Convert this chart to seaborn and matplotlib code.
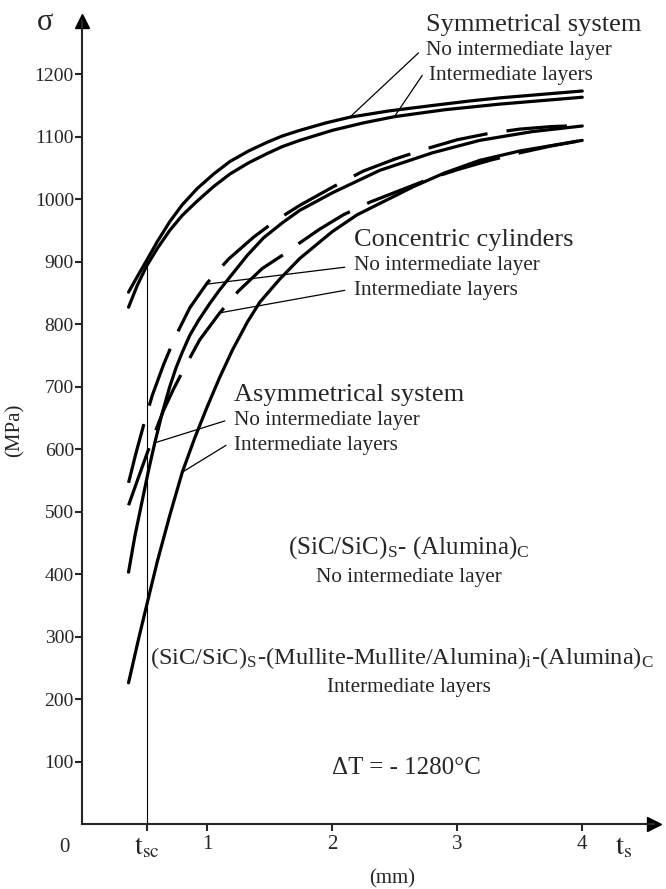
"""
Residual stress vs. SiC/SiC thickness for three joint geometries
"""

import matplotlib
matplotlib.use("Agg")
import matplotlib.pyplot as plt
import seaborn as sns

# Data (thickness t_s in mm, stress in MPa)
sym_no_x = [0.37, 0.44, 0.515, 0.6, 0.70, 0.8, 0.92, 1.05, 1.18, 1.33, 1.48, 1.6, 1.74,
            1.95, 2.14, 2.45, 2.81, 3.1, 3.34, 3.7, 4.0]
sym_no_y = [851, 876, 902, 932, 964, 991, 1017, 1040, 1060, 1077, 1091, 1101, 1110,
            1122, 1131, 1141, 1150, 1157, 1162, 1168, 1173]

sym_int_x = [0.37, 0.44, 0.515, 0.6, 0.70, 0.8, 0.92, 1.05, 1.18, 1.33, 1.48, 1.6, 1.74,
             2.0, 2.25, 2.5, 2.9, 3.34, 3.7, 4.0]
sym_int_y = [827, 862, 893, 921, 950, 974, 997, 1020, 1040, 1058, 1073, 1084, 1094,
             1110, 1122, 1132, 1143, 1152, 1158, 1163]

conc_no_x = [0.37, 0.43, 0.49, 0.56, 0.65, 0.74, 0.86, 1.0, 1.17, 1.37, 1.55, 1.74,
             2.01, 2.25, 2.5, 2.76, 3.0, 3.25, 3.5, 3.75, 4.0]
conc_no_y = [546, 594, 638, 686, 735, 778, 826, 866, 904, 939, 966, 990,
             1020, 1045, 1064, 1081, 1095, 1105, 1112, 1116, 1118]

conc_int_x = [0.37, 0.45, 0.52, 0.58, 0.65, 0.73, 0.82, 0.94, 1.1, 1.25, 1.44, 1.6, 1.74,
              1.9, 2.09, 2.3, 2.53, 2.8, 3.0, 3.26, 3.5, 3.75, 4.0]
conc_int_y = [510, 555, 594, 626, 662, 696, 731, 775, 818, 853, 889, 910, 930,
              952, 975, 995, 1013, 1034, 1047, 1062, 1074, 1085, 1094]

asym_no_x = [0.37, 0.42, 0.48, 0.53, 0.58, 0.64, 0.70, 0.75, 0.80, 0.86, 0.93, 1.02, 1.1,
             1.2, 1.32, 1.45, 1.6, 1.74, 2.0, 2.38, 2.8, 3.18, 3.6, 4.0]
asym_no_y = [403, 460, 518, 566, 610, 658, 700, 730, 755, 782, 806, 833, 855,
             880, 910, 938, 962, 982, 1010, 1046, 1074, 1094, 1108, 1117]

asym_int_x = [0.37, 0.45, 0.515, 0.6, 0.7, 0.8, 0.9, 1.0, 1.1, 1.2, 1.32, 1.42, 1.58, 1.74,
              2.0, 2.2, 2.45, 2.65, 2.9, 3.18, 3.5, 4.0]
asym_int_y = [226, 296, 350, 420, 494, 563, 618, 668, 715, 758, 803, 835, 872, 905,
              948, 975, 1000, 1020, 1042, 1062, 1077, 1094]

T_SC = 0.515
SIGMA_SC = 902

y_ticks = [100, 200, 300, 400, 500, 600, 700, 800, 900, 1000, 1100, 1200]
x_ticks = [T_SC, 1, 2, 3, 4]
x_tick_labels = [r"$\mathrm{t}_{\mathrm{sc}}$", "1", "2", "3", "4"]

# Style
sns.set_style("ticks")
plt.rcParams['font.family'] = ['Liberation Serif', 'DejaVu Serif']
plt.rcParams['mathtext.fontset'] = 'stix'

fig = plt.figure(figsize=(6.66, 8.89), dpi=100)
ax = fig.add_axes([82.3 / 666, 65 / 889, (654 - 82.3) / 666, (824 - 21) / 889])

solid_kw = dict(color="black", linewidth=2.3, estimator=None, sort=False, legend=False)
dash_kw = dict(solid_kw, linestyle=(0, (19, 6)))

sns.lineplot(x=sym_no_x, y=sym_no_y, ax=ax, **solid_kw)
sns.lineplot(x=sym_int_x, y=sym_int_y, ax=ax, **solid_kw)
sns.lineplot(x=conc_no_x, y=conc_no_y, ax=ax, **dash_kw)
sns.lineplot(x=conc_int_x, y=conc_int_y, ax=ax, **dash_kw)
sns.lineplot(x=asym_no_x, y=asym_no_y, ax=ax, **solid_kw)
sns.lineplot(x=asym_int_x, y=asym_int_y, ax=ax, **solid_kw)

# t_sc marker line
ax.plot([T_SC, T_SC], [0, SIGMA_SC], color="black", lw=0.8)

# Axes
ax.set_xlim(0, 4.574)
ax.set_ylim(0, 1285)
sns.despine(ax=ax)
for s in ["left", "bottom"]:
    ax.spines[s].set_linewidth(1.5)
ax.set_yticks(y_ticks)
ax.set_xticks(x_ticks)
ax.set_xticklabels(x_tick_labels)
ax.tick_params(axis="y", labelsize=14, length=5, width=1.5, pad=1)
ax.tick_params(axis="x", labelsize=15, length=5, width=1.5, pad=3)
for lab in ax.get_xticklabels()[:1]:
    lab.set_fontsize(20)
ax.set_xlabel("")
ax.set_ylabel("")

# arrow heads
ax.plot(1, 0, ">k", ms=10, transform=ax.transAxes, clip_on=False)
ax.plot(0, 1, "^k", ms=10, transform=ax.transAxes, clip_on=False)

ax.text(-0.14, -37, "0", fontsize=15, ha="center", va="center")
ax.text(4.33, -37, r"$\mathrm{t}_{\mathrm{s}}$", fontsize=21, ha="center", va="center")
ax.text(2.48, -88, "(mm)", fontsize=15, ha="center", va="center")
ax.text(-0.54, 630, "(MPa)", fontsize=15, ha="center", va="center", rotation=90)
ax.text(-0.30, 1283, "σ", fontsize=22, ha="center", va="center")

# Curve labels
title_fs = 19
sub_fs = 15.3
ax.text(2.75, 1278, "Symmetrical system", fontsize=title_fs, va="center")
ax.text(2.75, 1237, "No intermediate layer", fontsize=sub_fs, va="center")
ax.text(2.77, 1198, "Intermediate layers", fontsize=sub_fs, va="center")
ax.plot([2.69, 2.14], [1234, 1131], color="black", lw=0.9)
ax.plot([2.72, 2.50], [1198, 1133], color="black", lw=0.9)

ax.text(2.17, 934, "Concentric cylinders", fontsize=title_fs, va="center")
ax.text(2.17, 893, "No intermediate layer", fontsize=sub_fs, va="center")
ax.text(2.17, 854, "Intermediate layers", fontsize=sub_fs, va="center")
ax.plot([2.10, 1.0], [891, 864], color="black", lw=0.9)
ax.plot([2.10, 1.10], [854, 818], color="black", lw=0.9)

ax.text(1.21, 686, "Asymmetrical system", fontsize=title_fs, va="center")
ax.text(1.21, 645, "No intermediate layer", fontsize=sub_fs, va="center")
ax.text(1.21, 606, "Intermediate layers", fontsize=sub_fs, va="center")
ax.plot([1.14, 0.58], [645, 610], color="black", lw=0.9)
ax.plot([1.15, 0.80], [606, 563], color="black", lw=0.9)

ax.text(2.61, 442, r"(SiC/SiC)$_\mathregular{S}$- (Alumina)$_\mathregular{C}$",
        fontsize=18, ha="center", va="center")
ax.text(2.61, 394, "No intermediate layer", fontsize=sub_fs, ha="center", va="center")
ax.text(2.56, 266,
        r"(SiC/SiC)$_\mathregular{S}$-(Mullite-Mullite/Alumina)$_\mathregular{i}$-(Alumina)$_\mathregular{C}$",
        fontsize=17.6, ha="center", va="center")
ax.text(2.61, 218, "Intermediate layers", fontsize=sub_fs, ha="center", va="center")
ax.text(2.59, 90, "ΔT = - 1280°C", fontsize=18, ha="center", va="center")

plt.savefig("out.png", dpi=100)
plt.close()
